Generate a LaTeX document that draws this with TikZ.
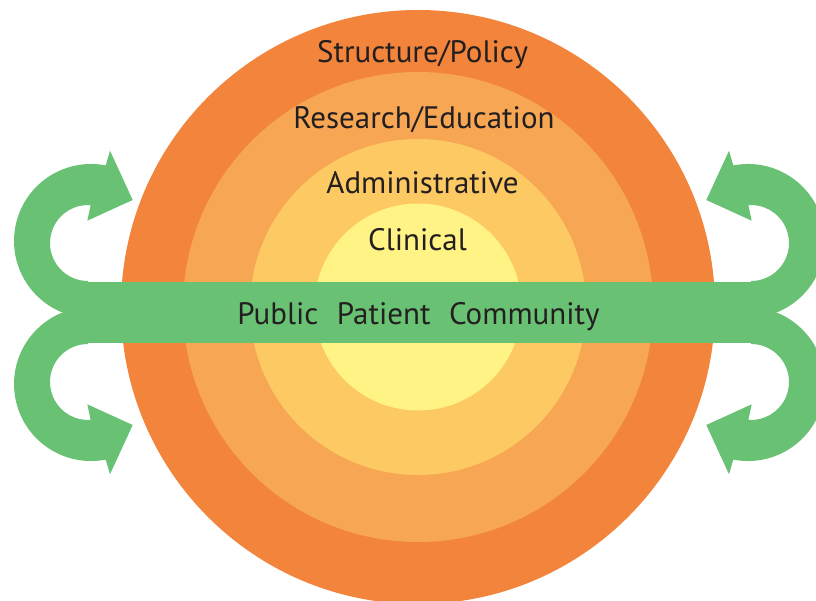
\documentclass[tikz,border=0pt]{standalone}
\usepackage{fontspec}
\setmainfont{PT Sans}
\definecolor{ringouter}{RGB}{243,132,60}
\definecolor{ringsecond}{RGB}{247,166,84}
\definecolor{ringthird}{RGB}{253,201,98}
\definecolor{ringinner}{RGB}{255,243,133}
\definecolor{bandgreen}{RGB}{105,194,115}
\definecolor{textgray}{RGB}{35,31,32}
\begin{document}
\begin{tikzpicture}[x=1pt,y=1pt,
  ringlabel/.style={font=\fontsize{31}{37}\selectfont, text=textgray, anchor=base, inner sep=0pt}]
\useasboundingbox (0,0) rectangle (816,-601);
\clip (0,0) rectangle (816,-601);
% rings
\fill[ringouter] (418,-307) circle[radius=297];
\fill[ringsecond] (418,-307) circle[radius=235];
\fill[ringthird] (418,-307) circle[radius=168];
\fill[ringinner] (418,-307) circle[radius=103.5];
% green band and the four hooks
\fill[bandgreen] (87,-282) rectangle (752,-343);
\foreach \sx/\sy in {1/1,1/-1,-1/1,-1/-1}
  \fill[bandgreen, shift={(419.5,-312.5)}, xscale=\sx, yscale=\sy, shift={(-419.5,312.5)}]
    (88,-281) arc[start angle=270, end angle=86, radius=38]
    -- (87.3,-220.7) -- (132.7,-200) -- (110,-150.7) -- (105.7,-165.4)
    arc[start angle=79, end angle=270, radius=77] -- cycle;
% labels
\node[ringlabel] (structure) at (422.5,-63) {Structure/Policy};
\node[ringlabel] (research) at (424,-129) {Research/Education};
\node[ringlabel] (admin) at (422.5,-194) {Administrative};
\node[ringlabel] (clinical) at (417.5,-251) {Clinical};
\node[ringlabel] (ppc) at (418.5,-324) {Public\hspace{0.33em} Patient\hspace{0.33em} Community};
\end{tikzpicture}
\end{document}
